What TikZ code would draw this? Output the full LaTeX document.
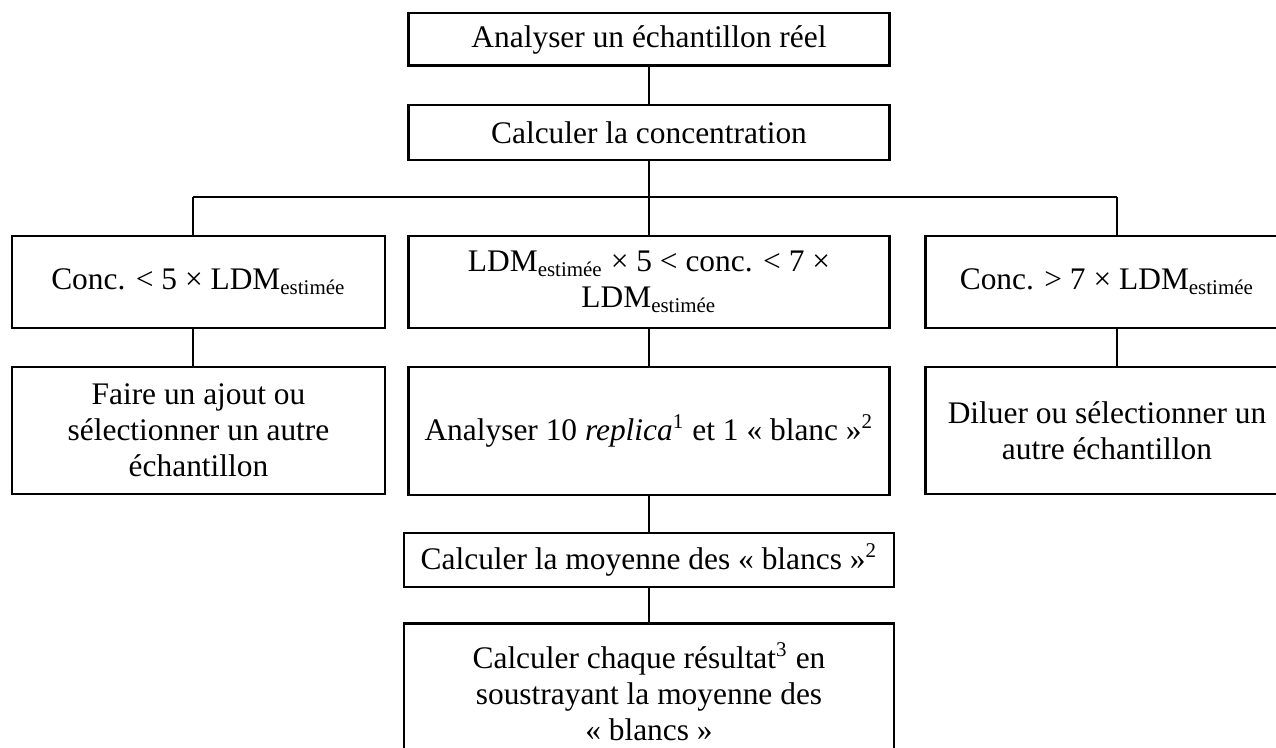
\documentclass[tikz,border=0pt]{standalone}
\usepackage{fontspec}
\setmainfont{Liberation Serif}
\usetikzlibrary{positioning}

\newcommand{\ldm}{LDM\textsubscript{estimée}}

\begin{document}
\begin{tikzpicture}[x=0.382pt,y=-0.382pt,
	box/.style={draw, line width=1.1pt, align=center, inner sep=0pt,
		font=\fontsize{12}{13.8}\selectfont},
	link/.style={line width=1.1pt}]
	\useasboundingbox (0,0) rectangle (1276,748);
	\clip (0,0) rectangle (1276,748);

	% Tronc commun
	\node[box, minimum width=183.7pt, minimum height=20.2pt] (analyse) at (649,39.5) {Analyser un échantillon réel};
	\node[box, minimum width=183.7pt, minimum height=21pt] (calcul) at (649,132.5) {Calculer la concentration};

	% Trois cas
	\node[box, minimum width=142.5pt, minimum height=35.1pt] (casbas) at (198.5,282) {Conc. < 5 × \ldm};
	\node[box, minimum width=183.7pt, minimum height=35.1pt] (casmilieu) at (649,282) {\ldm{} × 5 < conc. < 7 ×\\ \ldm};
	\node[box, minimum width=139pt, minimum height=35.1pt] (cashaut) at (1107,282) {Conc. > 7 × \ldm};

	% Suites de chaque cas
	\node[box, minimum width=142.5pt, minimum height=48.5pt] (ajout) at (198.5,430.5) {Faire un ajout ou\\ sélectionner un autre\\ échantillon};
	\node[box, minimum width=183.7pt, minimum height=48.9pt] (replica) at (649,431) {Analyser 10 \textit{replica}\textsuperscript{1} et 1 «~blanc~»\textsuperscript{2}};
	\node[box, minimum width=139pt, minimum height=48.5pt] (diluer) at (1107,430.5) {Diluer ou sélectionner un\\ autre échantillon};

	% Fin du cas central
	\node[box, minimum width=187.2pt, minimum height=20.6pt] (moyenne) at (649,560) {Calculer la moyenne des «~blancs~»\textsuperscript{2}};
	\node[box, minimum width=187.2pt, minimum height=52pt] (resultat) at (649,692) {Calculer chaque résultat\textsuperscript{3} en\\ soustrayant la moyenne des\\ «~blancs~»};

	% Liaisons
	\coordinate (busG) at (193,197);
	\coordinate (busD) at (1117,197);
	\draw[link] (analyse) -- (calcul);
	\draw[link] (calcul) -- (casmilieu);
	\draw[link] (busG) -- (busD);
	\draw[link] (busG) -- (busG |- casbas.north);
	\draw[link] (busD) -- (busD |- cashaut.north);
	\draw[link] (busG |- casbas.south) -- (busG |- ajout.north);
	\draw[link] (casmilieu) -- (replica);
	\draw[link] (busD |- cashaut.south) -- (busD |- diluer.north);
	\draw[link] (replica) -- (moyenne);
	\draw[link] (moyenne) -- (resultat);
\end{tikzpicture}
\end{document}
